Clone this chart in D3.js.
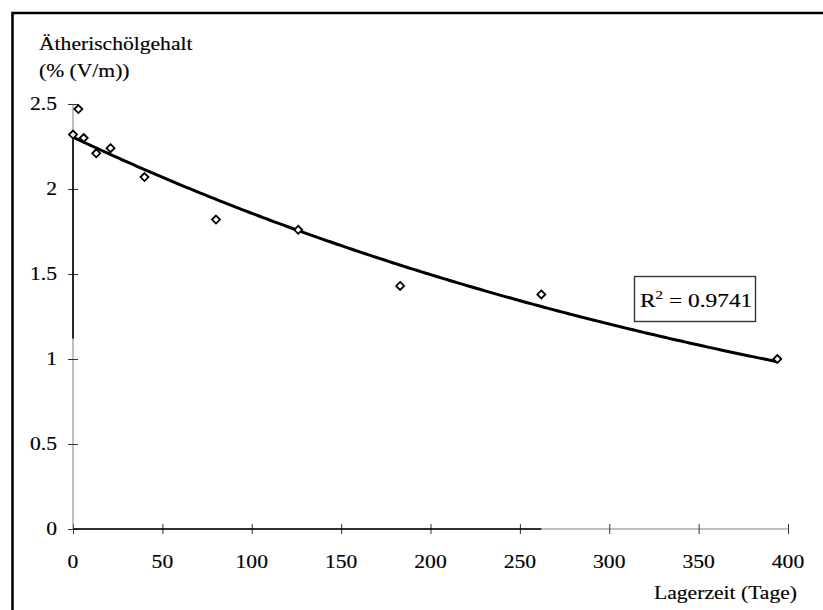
<!DOCTYPE html>
<html>
<head>
<meta charset="utf-8">
<script src="https://cdn.jsdelivr.net/npm/d3@7"></script>
<style>
  html, body { margin: 0; padding: 0; background: #fff; }
  svg { display: block; }
</style>
</head>
<body>
<svg id="chart" width="823" height="610"></svg>
<script>
// Storage time in days and essential-oil content in % (V/m)
const days   = [0, 3, 6, 13, 21, 40, 80, 126, 183, 262, 394];
const oil    = [2.32, 2.47, 2.30, 2.21, 2.24, 2.07, 1.82, 1.76, 1.43, 1.38, 1.00];
const xTicks = [0, 50, 100, 150, 200, 250, 300, 350, 400];
const yTicks = [0, 0.5, 1, 1.5, 2, 2.5];
const yTickLabels = ["0", "0.5", "1", "1.5", "2", "2.5"];
const rSquaredText = "0.9741";

const svg = d3.select("#chart");
const W = 823, H = 610;
const SX = 1.2;              // horizontal stretch of the lettering
const FS = 18;               // base font size
const FONT = "Liberation Serif";

const x = d3.scaleLinear().domain([0, 400]).range([73, 788]);
const y = d3.scaleLinear().domain([0, 2.5]).range([529, 104]);

// stretched, slightly heavy text helper
function label(g, tx, ty, str, anchor, size) {
  return g.append("text")
    .attr("transform", `translate(${tx},${ty}) scale(${SX},1)`)
    .attr("text-anchor", anchor || "start")
    .attr("font-family", FONT)
    .attr("font-size", size || FS)
    .attr("fill", "#000")
    .attr("stroke", "#000").attr("stroke-width", 0.15)
    .text(str);
}

// outer frame (top and left edges)
svg.append("path")
  .attr("d", `M12.5,${H} L12.5,13 L${W},13`)
  .attr("fill", "none").attr("stroke", "#000").attr("stroke-width", 2.6);

// axis titles
label(svg, 39, 50, "Ätherischölgehalt");
label(svg, 39, 77, "(% (V/m))");
label(svg, 797, 599, "Lagerzeit (Tage)", "end");

// x axis
const xAxis = svg.append("g")
  .attr("transform", `translate(0,${y(0)})`)
  .call(d3.axisBottom(x).tickValues(xTicks).tickSize(5).tickFormat(""));
xAxis.select(".domain").attr("stroke", "#808080").attr("d", `M${x(0)},0H${x(400)}`);
xAxis.selectAll(".tick line").attr("y1", -5).attr("y2", 5).attr("stroke", "#333");
xTicks.forEach(v => label(svg, x(v), 568, String(v), "middle"));

// y axis
const yAxis = svg.append("g")
  .attr("transform", `translate(${x(0)},0)`)
  .call(d3.axisLeft(y).tickValues(yTicks).tickSize(5).tickFormat(""));
yAxis.select(".domain").attr("stroke", "#808080").attr("d", `M0,${y(2.5)}V${y(0)}`);
yAxis.selectAll(".tick line").attr("x1", -5).attr("x2", 5).attr("stroke", "#333");
yTicks.forEach((v, i) => label(svg, 57, y(v) + 6, yTickLabels[i], "end"));

// darker stretches of the axis lines
svg.append("line")
  .attr("x1", x(0)).attr("x2", x(262)).attr("y1", y(0)).attr("y2", y(0))
  .attr("stroke", "#000").attr("stroke-width", 1.4);
svg.append("line")
  .attr("x1", x(0)).attr("x2", x(0)).attr("y1", y(2.32)).attr("y2", y(1.12))
  .attr("stroke", "#000").attr("stroke-width", 1.6);

// exponential trend line fitted by least squares on ln(value)
const n = days.length;
const lv = oil.map(Math.log);
const md = d3.mean(days), ml = d3.mean(lv);
let sxy = 0, sxx = 0;
for (let i = 0; i < n; i++) { sxy += (days[i] - md) * (lv[i] - ml); sxx += (days[i] - md) ** 2; }
const b = sxy / sxx, a = Math.exp(ml - b * md);
const xMax = d3.max(days);
const trend = d3.range(0, 201).map(i => { const d = xMax * i / 200; return [d, a * Math.exp(b * d)]; });
svg.append("path")
  .datum(trend)
  .attr("d", d3.line().x(d => x(d[0])).y(d => y(d[1])))
  .attr("fill", "none").attr("stroke", "#000").attr("stroke-width", 3)
  .attr("stroke-linejoin", "round");

// data markers (open diamonds)
svg.append("g").selectAll("path")
  .data(days.map((d, i) => [d, oil[i]]))
  .join("path")
  .attr("transform", d => `translate(${x(d[0])},${y(d[1])})`)
  .attr("d", "M0,-4L4,0L0,4L-4,0Z")
  .attr("fill", "#fff").attr("stroke", "#000").attr("stroke-width", 1.8);

// R² annotation box
const box = svg.append("g").attr("transform", "translate(634,276)");
box.append("rect").attr("x", 0.5).attr("y", 0.5).attr("width", 121).attr("height", 45)
  .attr("fill", "#fff").attr("stroke", "#333").attr("stroke-width", 1.4);
const rt = box.append("text")
  .attr("transform", `translate(6,31) scale(${SX},1)`)
  .attr("font-family", FONT)
  .attr("font-size", 19.5)
  .attr("fill", "#000")
  .attr("stroke", "#000").attr("stroke-width", 0.15);
rt.append("tspan").text("R");
rt.append("tspan").attr("dy", -8).attr("font-size", 12.5).text("2");
rt.append("tspan").attr("dy", 8).text(" = " + rSquaredText);
</script>
</body>
</html>
